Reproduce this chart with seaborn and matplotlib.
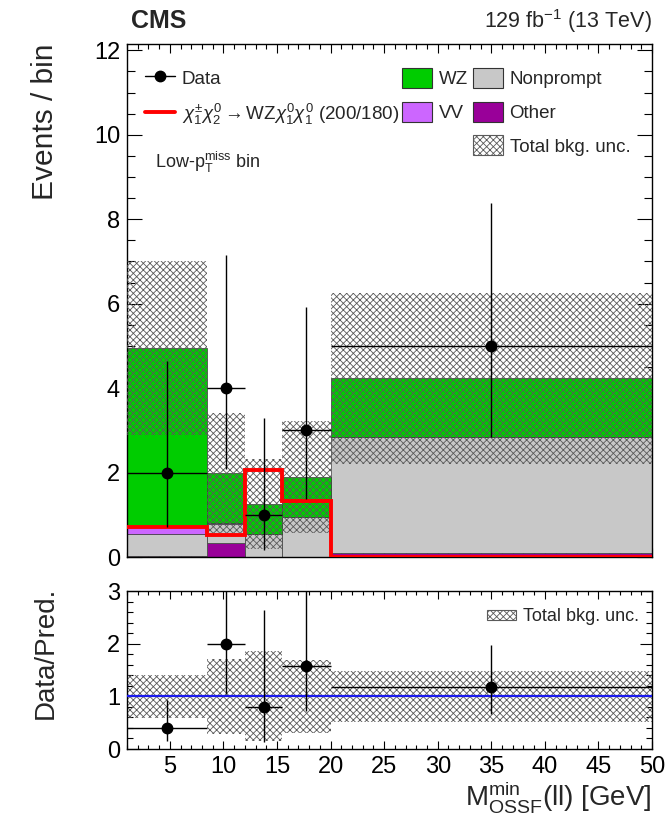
import numpy as np
import pandas as pd
import matplotlib
matplotlib.use("Agg")
import matplotlib.pyplot as plt
import seaborn as sns
from matplotlib.patches import Patch
from matplotlib.lines import Line2D
from matplotlib.ticker import MultipleLocator

# ---- histogram content ----
bin_edges = [1.0, 8.5, 12.0, 15.5, 20.0, 50.0]
processes = ["WZ", "VV", "Nonprompt", "Other"]
wz = [4.24, 1.20, 0.70, 0.95, 1.39]
vv = [0.16, 0.03, 0.00, 0.00, 0.00]
nonprompt = [0.53, 0.44, 0.55, 0.95, 2.74]
other = [0.02, 0.33, 0.00, 0.00, 0.10]
bkg_unc = [2.05, 1.42, 1.07, 1.32, 2.03]
signal = [0.72, 0.52, 2.05, 1.32, 0.00]
data_counts = [2, 4, 1, 3, 5]
data_err_lo = [1.29, 1.91, 0.83, 1.63, 2.16]
data_err_hi = [2.64, 3.16, 2.30, 2.92, 3.38]

colors = {"WZ": "#00cc00", "VV": "#cc66ff", "Nonprompt": "#c8c8c8", "Other": "#990099"}
hatch_color = "#5a5a5a"
hatch_style = "xxxxx"

# ---- style ----
sns.set_theme(style="ticks")
plt.rcParams["font.family"] = ["Liberation Sans", "DejaVu Sans"]
plt.rcParams["mathtext.fontset"] = "custom"
plt.rcParams["mathtext.rm"] = "Liberation Sans"
plt.rcParams["mathtext.it"] = "Liberation Sans:italic"
plt.rcParams["mathtext.bf"] = "Liberation Sans:bold"
plt.rcParams["hatch.linewidth"] = 0.6
plt.rcParams["axes.linewidth"] = 1.0
plt.rcParams["axes.edgecolor"] = "black"

edges = np.array(bin_edges)
centres = 0.5 * (edges[:-1] + edges[1:])
half_w = 0.5 * np.diff(edges)
widths = np.diff(edges)

stack = {"WZ": wz, "VV": vv, "Nonprompt": nonprompt, "Other": other}
total = np.sum([np.array(v) for v in stack.values()], axis=0)
unc = np.array(bkg_unc)
dat = np.array(data_counts, dtype=float)
elo = np.array(data_err_lo)
ehi = np.array(data_err_hi)

df = pd.DataFrame({
    "mass": np.tile(centres, len(processes)),
    "events": np.concatenate([stack[p] for p in processes]),
    "process": np.repeat(processes, len(centres)),
})

W, H = 667, 817
fig = plt.figure(figsize=(W / 100, H / 100), dpi=100)
ax = fig.add_axes([127 / W, 1 - 557 / H, (652 - 127) / W, (557 - 44) / H])
rax = fig.add_axes([127 / W, 1 - 749 / H, (652 - 127) / W, (749 - 591) / H])

# ---- main panel ----
sns.histplot(data=df, x="mass", weights="events", hue="process", hue_order=processes,
             bins=bin_edges, multiple="stack", palette=colors, alpha=1.0,
             linewidth=0.5, edgecolor="#3a3a3a", legend=False, ax=ax)
ax.bar(edges[:-1], 2 * unc, width=widths, bottom=total - unc, align="edge",
       color="none", edgecolor=hatch_color, hatch=hatch_style, linewidth=0, zorder=3)
ax.stairs(signal, edges, color="#ff0000", linewidth=2.8, baseline=None, zorder=4)
ax.errorbar(centres, dat, xerr=half_w, yerr=[elo, ehi], fmt="o", color="black",
            ms=7.5, elinewidth=1.0, capsize=0, zorder=5)

ax.set_xlim(1, 50)
ax.set_ylim(0, 12.15)
ax.set_xlabel("")
ax.set_ylabel("Events / bin", fontsize=21.5, loc="top")
ax.yaxis.set_label_coords(-0.13, 1.0)
ax.tick_params(axis="x", labelbottom=False)
ax.xaxis.set_major_locator(MultipleLocator(5))
ax.xaxis.set_minor_locator(MultipleLocator(1))
ax.yaxis.set_major_locator(MultipleLocator(2))
ax.yaxis.set_minor_locator(MultipleLocator(0.5))
ax.tick_params(axis="both", which="both", direction="in", top=True, right=True, colors="black")
ax.tick_params(axis="y", which="major", length=11, width=0.8, labelsize=17, pad=5)
ax.tick_params(axis="y", which="minor", length=5.5, width=0.8)
ax.tick_params(axis="x", which="major", length=6.5, width=0.8)
ax.tick_params(axis="x", which="minor", length=3.3, width=0.8)

fig.text(131 / W, 1 - 28 / H, "CMS", fontsize=18, fontweight="bold", ha="left", va="baseline")
fig.text(652 / W, 1 - 28 / H, r"129 fb$^{-1}$ (13 TeV)", fontsize=15.5, ha="right", va="baseline")
ax.text(155 / W, 1 - 168 / H, r"Low-p$_{\mathrm{T}}^{\mathrm{miss}}$ bin", fontsize=13,
        transform=fig.transFigure, ha="left", va="baseline")

# legends
leg_kw = dict(frameon=False, fontsize=13.5, borderpad=0, borderaxespad=0,
              handlelength=1.6, handleheight=1.25, labelspacing=0.72, handletextpad=0.35)
h_data = Line2D([], [], color="black", marker="o", ms=7.5, lw=1.0)
h_sig = Line2D([], [], color="#ff0000", lw=2.8)
leg1 = ax.legend([h_data, h_sig],
                 ["Data", r"$\chi_1^{\pm}\chi_2^{0} \rightarrow \mathrm{WZ}\chi_1^{0}\chi_1^{0}$ (200/180)"],
                 loc="upper left", bbox_to_anchor=(145 / W, 1 - 68 / H),
                 bbox_transform=fig.transFigure, **leg_kw)
ax.add_artist(leg1)
box = lambda c: Patch(facecolor=c, edgecolor="#333333", linewidth=0.8)
leg2 = ax.legend([box(colors["WZ"]), box(colors["VV"])], ["WZ", "VV"],
                 loc="upper left", bbox_to_anchor=(402 / W, 1 - 68 / H),
                 bbox_transform=fig.transFigure, **leg_kw)
ax.add_artist(leg2)
h_unc = Patch(facecolor="white", edgecolor=hatch_color, hatch=hatch_style, linewidth=0.8)
leg3 = ax.legend([box(colors["Nonprompt"]), box(colors["Other"]), h_unc],
                 ["Nonprompt", "Other", "Total bkg. unc."],
                 loc="upper left", bbox_to_anchor=(473 / W, 1 - 68 / H),
                 bbox_transform=fig.transFigure, **leg_kw)

# ---- ratio panel ----
ratio = dat / total
rax.bar(edges[:-1], 2 * unc / total, width=widths, bottom=1 - unc / total, align="edge",
        color="none", edgecolor=hatch_color, hatch=hatch_style, linewidth=0, zorder=2)
rax.axhline(1.0, color="#1a1aee", linewidth=1.6, zorder=3)
rax.errorbar(centres, ratio, xerr=half_w, yerr=[elo / total, ehi / total], fmt="o",
             color="black", ms=7.5, elinewidth=1.0, capsize=0, zorder=5, clip_on=True)
rax.set_xlim(1, 50)
rax.set_ylim(0, 3)
rax.xaxis.set_major_locator(MultipleLocator(5))
rax.xaxis.set_minor_locator(MultipleLocator(1))
rax.yaxis.set_major_locator(MultipleLocator(1))
rax.yaxis.set_minor_locator(MultipleLocator(0.2))
rax.tick_params(axis="both", which="both", direction="in", top=True, right=True, colors="black")
rax.tick_params(axis="y", which="major", length=9, width=0.8, labelsize=17, pad=5)
rax.tick_params(axis="y", which="minor", length=4.5, width=0.8)
rax.tick_params(axis="x", which="major", length=6, width=0.8, labelsize=17, pad=5)
rax.tick_params(axis="x", which="minor", length=3, width=0.8)
rax.set_xticks([5, 10, 15, 20, 25, 30, 35, 40, 45, 50])
rax.set_ylabel("Data/Pred.", fontsize=20, loc="top")
rax.yaxis.set_label_coords(-0.13, 1.03)
h_unc2 = Patch(facecolor="white", edgecolor=hatch_color, hatch=hatch_style, linewidth=0.8)
rax.legend([h_unc2], ["Total bkg. unc."], loc="upper right", frameon=False, fontsize=13,
           handlelength=1.6, handleheight=0.5, handletextpad=0.4, borderaxespad=0.3,
           bbox_to_anchor=(1.0, 0.97))

# x-axis title: right-aligned under the tick labels, sized to fit above the lower edge
fig.canvas.draw()
renderer = fig.canvas.get_renderer()
tick_bottom = min(t.get_window_extent(renderer).y0 for t in rax.get_xticklabels())
xlabel_text = r"$\mathrm{M}_{\mathrm{OSSF}}^{\mathrm{min}}$(ll) [GeV]"
size = 21.5
while True:
    lab = fig.text(652 / W, (tick_bottom - 1) / H, xlabel_text, fontsize=size,
                   ha="right", va="top")
    bb = lab.get_window_extent(renderer)
    if bb.y0 >= 1 or size <= 14:
        break
    lab.remove()
    size -= 0.5

fig.savefig("out.png", dpi=100)
